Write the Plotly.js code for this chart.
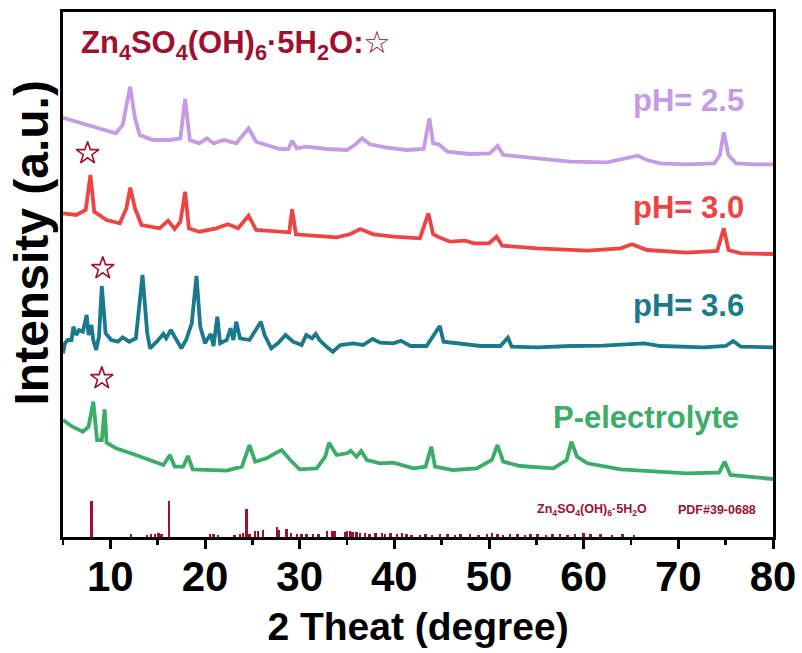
<!DOCTYPE html>
<html>
<head>
<meta charset="utf-8">
<script src="https://cdn.plot.ly/plotly-3.0.1.min.js"></script>
<style>html,body{margin:0;padding:0;background:#fff;}#chart{width:802px;height:653px;}</style>
</head>
<body>
<div id="chart"></div>
<script>
// ---- data (2θ in degree, intensity in a.u.) ----
const x25 = [5.0,6.7,8.9,10.6,11.3,12.1,12.6,13.1,14.5,16.3,17.4,17.9,18.4,19.4,20.2,20.9,22.0,23.3,24.6,25.4,26.5,27.9,28.8,29.2,29.7,30.7,32.9,35.0,35.8,36.6,37.4,39.2,41.3,43.1,43.7,44.1,44.7,45.6,48.0,50.1,50.9,51.5,55.1,58.6,62.5,64.2,65.7,66.7,68.1,70.9,73.8,74.4,74.8,75.3,76.1,78.0,80.0];
const i25 = [52.3,47.3,41.7,36.7,45,83.3,52,35,30,30,31.7,71,30,26.7,31.7,26.7,30,26.7,41.7,28.3,25,21,21,29.3,21.7,23.3,21,20,25,31.7,25.7,22.3,20,21,51.7,26.7,25.7,18.3,16,16.7,24.3,15,11.7,8.3,7.7,11.7,14.3,10,6.7,5.7,6.7,15,37.7,15,6.7,5.7,5.7];

const x30 = [5.0,6.4,7.4,7.9,8.3,9.6,11.0,11.7,12.1,12.6,13.3,15.2,16.1,16.8,17.4,17.9,18.3,19.4,21.2,22.4,23.5,24.6,25.4,27.6,28.9,29.2,29.6,31.4,33.9,35.3,36.4,37.8,39.9,42.7,43.6,44.1,44.6,45.9,47.5,48.4,50.0,50.8,51.4,55.1,60.4,63.9,65.1,66.7,70.9,74.1,74.8,75.3,76.6,80.0];
const i30 = [46.7,45,50,85,48.3,40,36.7,51.7,72.3,51.7,35,31.7,39.3,31,38.3,68.3,31.7,28.3,31.7,35.7,31.7,44.3,30,28.3,27.7,50.7,25.7,24.3,22.7,25.7,31,25.7,23.3,21.7,46.7,25.7,23.3,18.3,19.3,16.7,16.7,23.3,14.3,11.7,9.3,11.7,15.7,10,7.3,9,31.7,10,6.7,6];

const x36 = [5.0,5.2,5.5,5.9,6.1,6.4,6.7,7.1,7.5,7.7,8.0,8.2,8.5,8.8,9.1,9.5,10.1,10.8,11.3,12.0,12.7,13.4,13.9,14.2,14.9,15.6,15.9,16.4,16.8,17.5,18.0,18.6,19.1,19.5,20.0,20.6,20.9,21.3,21.6,22.3,22.7,23.0,23.3,23.7,24.7,25.4,25.9,26.3,27.0,27.7,28.5,29.3,30.2,30.7,31.3,31.7,32.1,32.9,33.5,34.3,35.7,36.7,37.7,38.5,39.9,40.7,41.7,43.4,44.8,45.2,47.0,49.1,51.2,52.0,52.4,55.1,58.6,62.1,66.4,68.1,72.7,75.0,75.8,76.6,80.0];
const i36 = [1.7,11.7,15,15,28.3,20,25,23.3,40,20,30,15,5,18.3,69,21.7,15,13.3,17.7,13.3,16.7,80,21.7,6.7,13.3,21,16.7,25,18.3,6.7,15,31.7,79,28.3,11.7,21,9,38.3,11.7,15,26.7,15,33.3,16.7,15,25,33.3,20,6.7,11.7,20,13.3,10,20,16.7,21,15,7.7,3.3,10,11.7,10,16,12.3,11.7,14.3,9,9,29,13.3,11,9,9,17.3,8.3,7.7,9,9.3,11.7,9,7.7,9,14,8.3,7.7];

const xP = [5.0,6.0,7.1,7.7,8.2,8.6,9.1,9.4,9.6,10.6,12.4,14.2,15.6,16.3,16.8,17.7,18.2,18.7,20.5,22.3,23.9,24.7,25.3,26.5,27.4,28.1,29.0,30.0,31.8,32.7,33.1,33.9,35.0,35.4,36.0,36.5,37.1,38.5,39.9,42.0,43.3,43.9,44.3,46.2,48.7,50.3,50.9,51.5,53.3,56.8,58.2,58.7,59.3,60.4,63.9,67.4,70.9,74.3,74.9,75.5,78.0,80.0];
const iP = [65,58.3,53.3,58.3,83.3,45,45,75.7,42.3,36.7,31,25,20,30,18.3,18.3,29,15.7,15,14.3,18.3,40,23.3,26.7,31.7,35,25,15.7,16.7,28.3,42.3,30,31.7,34.3,28.3,34,25,21.7,22.3,16.7,18.3,38.3,18.3,15,16.7,25,40,23.3,19,16.7,25,43.3,28.3,21.7,15.7,13.3,11.7,12.3,23.3,10,8.3,6];

// reference pattern Zn4SO4(OH)6·5H2O, PDF#39-0688 (relative intensity, %)
const refX = [8.0,12.2,13.9,14.3,14.7,15.1,15.4,16.2,20.5,20.9,21.4,23.1,23.7,24.0,24.4,24.7,25.3,25.6,26.1,27.6,27.8,28.6,29.1,29.7,30.2,30.7,31.4,32.0,32.9,33.4,33.7,34.8,35.0,35.3,35.6,36.0,36.4,36.9,37.4,38.0,38.7,39.0,39.6,40.3,40.8,41.3,41.8,42.7,43.3,44.0,44.8,45.6,46.4,47.0,48.0,48.9,49.8,50.3,50.9,51.5,52.2,53.0,53.8,54.4,55.1,56.0,56.7,57.5,58.3,59.1,60.0,60.7,61.8,63.0,64.1,65.3];
const refI = [100,9,6,8,8,11,8,100,8,8,6,6,8,11,77,8,17,17,19,28,19,22,11,8,8,8,8,8,17,17,17,14,17,17,14,14,11,11,8,11,11,8,11,8,11,8,6,6,8,6,8,8,6,8,8,6,8,11,8,6,8,8,6,8,8,6,8,8,6,8,11,8,8,6,8,6];

// star marks (Zn4SO4(OH)6·5H2O peaks)
const starX = [7.6, 9.2, 9.1];
const starY = [383.7, 268.7, 158.7];

const seriesNames = ['pH= 2.5','pH= 3.0','pH= 3.6','P-electrolyte'];

// ---- display settings ----
const offsets = [367, 277, 182, 52];
const colors = ['#c49be4','#ee4444','#1b798d','#3aae69'];
const darkRed = '#a0102e';
const BAR_SCALE = 0.36;

const xs = [x25, x30, x36, xP];
const is = [i25, i30, i36, iP];

const traces = xs.map((xx, k) => ({
  type: 'scatter', mode: 'lines', name: seriesNames[k],
  x: xx, y: is[k].map(v => v + offsets[k]),
  line: {color: colors[k], width: 3.8, shape: 'linear'},
  hoverinfo: 'skip'
}));

traces.push({
  type: 'bar', x: refX, y: refI.map(v => v * BAR_SCALE),
  width: 0.26, marker: {color: darkRed, line: {width: 0}},
  name: 'PDF#39-0688', hoverinfo: 'skip'
});

traces.push({
  type: 'scatter', mode: 'markers', x: starX, y: starY,
  marker: {symbol: 'star-open', size: 17, color: darkRed, line: {width: 1.6, color: darkRed}},
  hoverinfo: 'skip'
});

const F = 'Liberation Sans, Arial, sans-serif';
const labelPos = [[77.2, 437], [77.2, 330], [77.2, 232], [76.6, 120]];

const annotations = seriesNames.map((t, k) => ({
  x: labelPos[k][0], y: labelPos[k][1], xref: 'x', yref: 'y',
  text: '<b>' + t + '</b>', showarrow: false, xanchor: 'right', yanchor: 'middle',
  font: {family: F, size: 31, color: colors[k]}
}));

annotations.push({
  x: 6.7, y: 492, xref: 'x', yref: 'y', xanchor: 'left', yanchor: 'middle', showarrow: false,
  text: '<b>Zn<sub>4</sub>SO<sub>4</sub>(OH)<sub>6</sub>·5H<sub>2</sub>O:</b>☆',
  font: {family: F, size: 31, color: darkRed}
});
annotations.push({
  x: 60.9, y: 27, xref: 'x', yref: 'y', xanchor: 'center', yanchor: 'middle', showarrow: false,
  text: '<b>Zn<sub>4</sub>SO<sub>4</sub>(OH)<sub>6</sub>·5H<sub>2</sub>O</b>',
  font: {family: F, size: 12.5, color: darkRed}
});
annotations.push({
  x: 74.1, y: 27, xref: 'x', yref: 'y', xanchor: 'center', yanchor: 'middle', showarrow: false,
  text: '<b>PDF#39-0688</b>',
  font: {family: F, size: 12.5, color: darkRed}
});
// y-axis title
annotations.push({
  x: -0.043, y: 0.56, xref: 'paper', yref: 'paper', xanchor: 'center', yanchor: 'middle',
  showarrow: false, textangle: -90,
  text: '<b>Intensity (a.u.)</b>',
  font: {family: F, size: 48, color: '#000'}
});

const layout = {
  width: 802, height: 653,
  margin: {l: 63, r: 29, t: 12, b: 116},
  paper_bgcolor: '#fff', plot_bgcolor: '#fff',
  showlegend: false,
  xaxis: {
    range: [5, 80], tick0: 10, dtick: 10,
    showline: true, mirror: true, linecolor: '#000', linewidth: 3,
    ticks: 'outside', ticklen: 9, tickwidth: 3, tickcolor: '#000',
    minor: {dtick: 5, tick0: 5, ticks: 'outside', ticklen: 5, tickwidth: 2.5, tickcolor: '#000'},
    showgrid: false, zeroline: false,
    ticklabelstandoff: -8,
    tickfont: {family: F, size: 42, color: '#000', weight: 'bold'},
    title: {text: '<b>2 Theat (degree)</b>', font: {family: F, size: 39, color: '#000'}, standoff: 14}
  },
  yaxis: {
    range: [0, 525],
    showline: true, mirror: true, linecolor: '#000', linewidth: 3,
    ticks: '', showticklabels: false, showgrid: false, zeroline: false
  },
  bargap: 0,
  annotations: annotations
};

Plotly.newPlot('chart', traces, layout, {staticPlot: true, displayModeBar: false});
</script>
</body>
</html>
